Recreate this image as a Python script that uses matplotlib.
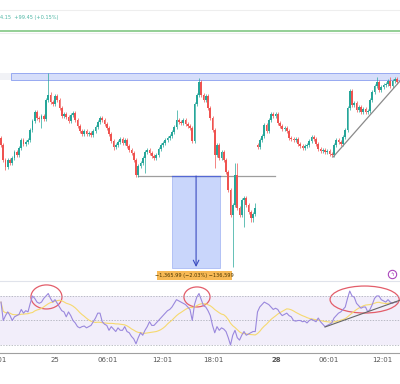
import numpy as np
import pandas as pd
import matplotlib
matplotlib.use('Agg')
import matplotlib.pyplot as plt
from matplotlib.patches import Rectangle, Ellipse

# 15 min candles, price in chart units (higher = higher price)
first_open = 162
session_gap = {114: 155}
closes = [
    155, 140, 133, 140, 137, 142, 148, 145, 152, 160,
    156, 158, 160, 170, 179, 188, 182, 181, 184, 181,
    200, 205, 198, 196, 204, 200, 192, 184, 186, 183,
    179, 185, 187, 180, 174, 169, 166, 169, 166, 167,
    165, 169, 173, 178, 182, 180, 176, 172, 166, 159,
    153, 155, 158, 161, 157, 160, 154, 150, 147, 140,
    125, 134, 137, 142, 148, 150, 147, 144, 142, 145,
    151, 155, 157, 160, 162, 164, 168, 173, 180, 178,
    177, 180, 176, 174, 172, 159, 196, 205, 218, 205,
    200, 204, 192, 182, 170, 145, 155, 142, 148, 140,
    128, 110, 85, 95, 125, 92, 85, 100, 102, 95,
    88, 82, 86, 92, 153, 160, 164, 175, 169, 180,
    186, 184, 186, 177, 174, 171, 172, 169, 162, 161,
    160, 161, 156, 154, 152, 154, 155, 159, 163, 161,
    156, 151, 149, 150, 148, 149, 146, 145, 155, 160,
    158, 156, 163, 170, 192, 209, 195, 197, 190, 193,
    188, 191, 188, 189, 200, 208, 214, 218, 210, 213,
    215, 216, 219, 214, 219, 221, 218,
]
highs = [
    164, 157, 142, 142, 142, 144, 150, 150, 154, 162,
    162, 160, 162, 172, 181, 190, 190, 184, 186, 186,
    202, 227, 208, 200, 206, 206, 202, 194, 188, 188,
    185, 187, 189, 189, 182, 176, 171, 171, 171, 169,
    169, 171, 175, 180, 184, 184, 182, 178, 174, 168,
    161, 157, 160, 163, 163, 162, 162, 156, 152, 149,
    142, 136, 139, 144, 150, 152, 152, 149, 146, 147,
    153, 157, 159, 162, 164, 166, 170, 175, 190, 182,
    180, 182, 182, 178, 176, 174, 198, 207, 222, 220,
    207, 206, 206, 194, 184, 172, 157, 157, 150, 150,
    142, 130, 112, 97, 137, 137, 94, 102, 104, 104,
    97, 90, 88, 97, 157, 162, 166, 177, 177, 182,
    188, 188, 188, 188, 179, 176, 174, 174, 171, 164,
    163, 163, 163, 158, 156, 156, 157, 161, 165, 165,
    163, 158, 153, 152, 152, 151, 151, 148, 157, 162,
    162, 160, 165, 172, 194, 211, 211, 199, 199, 195,
    195, 193, 193, 191, 202, 210, 216, 223, 220, 215,
    217, 218, 221, 223, 221, 223, 223,
]
lows = [
    153, 138, 130, 131, 135, 135, 140, 143, 143, 150,
    154, 154, 156, 158, 168, 177, 180, 178, 172, 179,
    179, 198, 196, 194, 194, 198, 190, 182, 182, 181,
    177, 177, 183, 178, 172, 167, 164, 164, 164, 164,
    163, 163, 167, 171, 176, 178, 174, 170, 164, 157,
    150, 151, 153, 156, 155, 155, 152, 148, 145, 138,
    123, 123, 132, 135, 127, 146, 145, 142, 140, 140,
    143, 149, 153, 155, 158, 160, 162, 166, 171, 176,
    175, 175, 174, 172, 170, 157, 157, 194, 203, 203,
    198, 198, 190, 180, 168, 132, 143, 140, 140, 138,
    126, 108, 83, 33, 93, 90, 83, 83, 73, 93,
    86, 78, 78, 84, 151, 151, 158, 162, 167, 167,
    178, 182, 182, 175, 172, 169, 169, 167, 160, 159,
    158, 158, 154, 152, 150, 150, 152, 153, 157, 159,
    154, 149, 147, 147, 146, 146, 144, 143, 143, 153,
    156, 154, 154, 161, 168, 190, 193, 193, 188, 188,
    186, 186, 186, 186, 187, 198, 206, 212, 208, 208,
    211, 213, 214, 212, 212, 217, 216,
]
rsi = [
    65, 50, 54, 57, 54, 50, 53, 54, 55, 59,
    56, 58, 57, 64, 70, 68, 65, 64, 65, 68,
    70, 72, 68, 65, 67, 64, 61, 58, 57, 53,
    57, 54, 50, 48, 45, 44, 45, 45.5, 44, 45,
    46, 49, 52, 56, 56, 49, 47, 46, 42, 45,
    43, 41, 44, 42, 42, 45, 41, 40, 37, 35,
    31, 36, 40, 38, 42, 45, 49, 46, 46, 48,
    50, 52, 54, 56, 58, 59, 61, 64, 67, 66,
    65, 64, 63, 61, 59, 50, 63, 69, 72, 67,
    62, 61, 58, 54, 46, 40, 45, 42, 44, 43,
    41, 36, 30, 38, 42, 36, 34, 38, 41, 38,
    39, 40, 41, 41, 57, 61, 63, 65, 64, 63,
    61, 59, 60, 59, 56, 54, 55, 56, 54, 53,
    50, 49.5, 50, 50, 49, 49.5, 48, 50, 51, 50,
    49, 52, 49, 47, 45, 46, 47, 48, 52, 54,
    56, 57, 59, 61, 68, 74, 70, 69, 64, 62,
    60, 61, 61, 57, 59, 63, 68, 70, 70, 67,
    66, 65, 67, 65, 64, 65, 65,
]
tick_pos = [24, 47.6, 71.6, 94.4, 122.4, 145.8, 169.3]
tick_labels = ['25', '06:01', '12:01', '18:01', '28', '06:01', '12:01']
header = '4.15  +99.45 (+0.15%)'
measure_label = '\u22121,365.99 (\u22122.03%) \u2212136,599'

GREEN = '#26a69a'
RED = '#ef5350'

closes = np.array(closes, dtype=float)
opens = np.concatenate([[first_open], closes[:-1]])
for k, v in session_gap.items():
    opens[k] = v
idx = np.arange(len(closes))
cols = np.where(closes >= opens, GREEN, RED)
rsi_ma = pd.Series(rsi).rolling(14, min_periods=1).mean()

fig = plt.figure(figsize=(4, 3.84), dpi=100)
ax = fig.add_axes([0, 104 / 384, 1, 280 / 384])
ax_rsi = fig.add_axes([0, 31 / 384, 1, 72 / 384])
xlim = (-0.444, 177.33)

# price pane
ax.set_xlim(*xlim)
ax.set_ylim(20, 300)
ax.axis('off')
ax.axhline(290, color='#eeeeee', lw=0.8)
ax.axhline(269, color='#81c784', lw=1.2)
ax.axhline(267.5, color='#eeeeee', lw=0.8)
ax.add_patch(Rectangle((-1, 220), 5.4, 7, facecolor='#f1f2f6', edgecolor='none'))
ax.add_patch(Rectangle((4.4, 220), 175, 7, facecolor='#d6defa', edgecolor='#8a9ff0', lw=0.6))

# measure tool
ax.plot([60.9, 121.8], [124, 124], color='#9e9e9e', lw=0.9)
ax.add_patch(Rectangle((76, 32), 21.3, 92, facecolor='#c9d6fb', edgecolor='#9fb1f2', lw=0.5))
ax.plot([76, 97.3], [124, 124], color='#5468d4', lw=0.9)
ax.annotate('', xy=(86.7, 33), xytext=(86.7, 124),
            arrowprops=dict(arrowstyle='->', color='#3b4cc0', lw=0.8, shrinkA=0, shrinkB=0))
ax.add_patch(Rectangle((69.3, 20.5), 33.4, 8.5, facecolor='#f7b955', edgecolor='none'))
ax.text(86, 24.7, measure_label, fontsize=3.6, color='#4a3600', ha='center', va='center')

ax.vlines(idx, lows, highs, colors=cols, lw=0.5, zorder=3)
ax.bar(idx, np.maximum(np.abs(closes - opens), 0.8), bottom=np.minimum(opens, closes),
       width=0.75, color=cols, lw=0, zorder=4)
ax.plot([147.6, 178.5], [143, 222], color='#8a8a8a', lw=0.9, zorder=5)
ax.plot([173.8], [26], marker='o', ms=6, mfc='white', mec='#ab47bc', mew=0.8)
ax.text(173.8, 26, '\u03df', fontsize=4, color='#ab47bc', ha='center', va='center')
fig.text(0.0, 1 - 17 / 384, header, fontsize=3.6, color='#4db6a4', va='center')

# rsi pane
ax_rsi.set_xlim(*xlim)
ax_rsi.set_ylim(23.5, 82.2)
ax_rsi.fill_between(xlim, 30, 70, color='#f2eefa', lw=0)
for lvl in (70, 50, 30):
    ax_rsi.axhline(lvl, color='#a3a6b0', lw=0.5, dashes=(2, 2))
ax_rsi.plot(idx, rsi_ma, color='#f6d96f', lw=0.8)
ax_rsi.plot(idx, rsi, color='#9a88dd', lw=0.8)
ax_rsi.plot([144, 178], [44.7, 67], color='#666666', lw=0.8)
for (cx, cy, w, h) in [(20.2, 69.2, 13.8, 19.6), (87.1, 69.2, 11.6, 16.3), (161.6, 67.1, 30.7, 22)]:
    ax_rsi.add_patch(Ellipse((cx, cy), w, h, facecolor='none', edgecolor='#e35d6a', lw=0.9))

for s in ['left', 'right']:
    ax_rsi.spines[s].set_visible(False)
ax_rsi.spines['top'].set_color('#e0e3eb')
ax_rsi.spines['top'].set_linewidth(0.8)
ax_rsi.spines['bottom'].set_color('#a0a0a0')
ax_rsi.spines['bottom'].set_linewidth(0.8)
ax_rsi.set_yticks([])
ax_rsi.set_xticks(tick_pos)
ax_rsi.set_xticklabels(tick_labels)
ax_rsi.tick_params(axis='x', length=0, pad=3, labelsize=5, labelcolor='#555555')
ax_rsi.get_xticklabels()[4].set_fontweight('bold')
ax_rsi.annotate('18:01', xy=(-2, 0), xycoords=('data', 'axes fraction'), xytext=(0, -3),
                textcoords='offset points', ha='center', va='top', fontsize=5,
                color='#555555', annotation_clip=False)

fig.savefig('out.png', dpi=100)
